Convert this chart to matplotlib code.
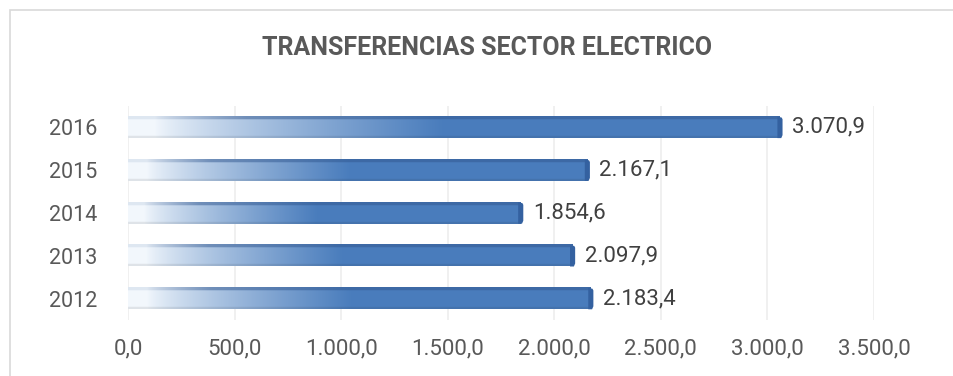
import matplotlib
matplotlib.use("Agg")
import matplotlib.pyplot as plt
import numpy as np
from matplotlib.patches import Rectangle, Polygon

plt.rcParams['font.family'] = ['Roboto', 'DejaVu Sans']

years = ["2012", "2013", "2014", "2015", "2016"]
values = [2183.4, 2097.9, 1854.6, 2167.1, 3070.9]
xticks = [0, 500, 1000, 1500, 2000, 2500, 3000, 3500]
title = "TRANSFERENCIAS SECTOR ELECTRICO"


def es_num(v, dec=1):
    s = f"{v:,.{dec}f}"
    return s.replace(",", "X").replace(".", ",").replace("X", ".")


light = np.array([0.95, 0.97, 0.99])
blue = np.array([0.29, 0.49, 0.74])
dark = np.array([0.19, 0.34, 0.56])


def bar_image(nx=300, ny=40):
    t = np.linspace(0, 1, nx)
    h = np.clip((t - 0.04) / 0.44, 0, 1) ** 0.8
    row = light[None, :] * (1 - h[:, None]) + blue[None, :] * h[:, None]
    img = np.repeat(row[None, :, :], ny, axis=0)
    # darker top face, slight shade at the bottom
    yy = np.linspace(0, 1, ny)
    k = np.clip(h * 2 + 0.2, 0, 1)[:, None]
    top_col = dark[None, :] * k + light[None, :] * (1 - k)
    top = yy < 0.13
    img[top] = img[top] * 0.5 + top_col[None, :, :] * 0.5
    bot = yy > 0.92
    img[bot] = img[bot] * 0.92
    return np.clip(img, 0, 1)


fig = plt.figure(figsize=(9.54, 3.76), dpi=100)
fig.patches.append(Rectangle((10 / 954, -0.1), 1.2, 1 - 10 / 376 + 0.1,
                             transform=fig.transFigure, fill=False,
                             edgecolor="#d9d9d9", linewidth=1.2))
ax = fig.add_axes([128 / 954, 1 - 320 / 376, (874 - 128) / 954, (320 - 106) / 376])

bh = 0.5
cap = 24
img = bar_image()
for i, v in enumerate(values):
    ax.imshow(img, extent=(0, v - cap / 2, i - bh / 2, i + bh / 2), aspect="auto",
              interpolation="bilinear", zorder=3, origin="upper")
    ax.add_patch(Polygon([(v - cap, i + bh / 2), (v - 4, i + bh / 2 - 0.02),
                          (v, i + bh / 2 - 0.06), (v, i - bh / 2 + 0.07),
                          (v - 6, i - bh / 2), (v - cap, i - bh / 2)],
                         closed=True, facecolor="#3461a0", edgecolor="none", zorder=4))
    ax.text(v + 45, i, es_num(v), va="center", ha="left", fontsize=16,
            color="#404040", zorder=5)

ax.set_xlim(0, 3500)
ax.set_ylim(-0.5, len(years) - 0.5)
ax.set_xticks(xticks)
ax.set_xticklabels([es_num(x) for x in xticks])
ax.set_yticks(range(len(years)))
ax.set_yticklabels(years)
ax.tick_params(axis="both", length=0, labelcolor="#595959")
ax.tick_params(axis="x", pad=13, labelsize=16)
ax.tick_params(axis="y", pad=22, labelsize=15.5)
ax.grid(axis="x", color="#eeeeee", linewidth=1.2, zorder=0)
ax.set_axisbelow(True)
for s in ax.spines.values():
    s.set_visible(False)

fig.text(487 / 954, 1 - 48 / 376, title, ha="center", va="center",
         fontsize=18, fontweight="bold", color="#595959")

fig.savefig("out.png", dpi=100)
